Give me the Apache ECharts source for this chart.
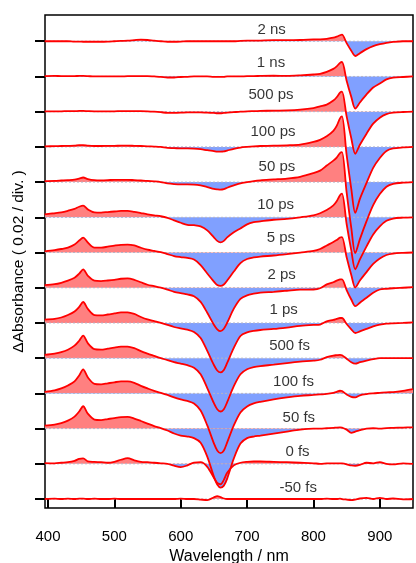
<!DOCTYPE html>
<html><head><meta charset="utf-8">
<script src="https://cdn.jsdelivr.net/npm/echarts@6/dist/echarts.min.js"></script>
<style>html,body{margin:0;padding:0;background:#fff}#c{width:416px;height:563px}</style>
</head><body><div id="c"></div>
<script>
// ---------- DATA (ΔA in mOD; 20 mOD = 0.02 = one division) ----------
const WAVELENGTH = [395,410,420,430,440,447,453,460,470,480,490,500,510,520,530,540,550,560,570,580,590,600,610,620,630,640,650,655,660,665,670,680,690,700,710,720,740,760,780,800,810,820,830,835,840,843,850,857,863,870,880,890,900,910,920,935,950];
const TRACE_NAMES = ['2 ns','1 ns','500 ps','100 ps','50 ps','10 ps','5 ps','2 ps','1 ps','500 fs','100 fs','50 fs','0 fs','-50 fs'];
const X_TICKS = [400,500,600,700,800,900];
const DIV_MOD = 20;

const T_2NS = [0,0,0,0,-0.2, -0.2,-0.3,-0.3,-0.3,-0.3, -0.2,0,0.2,0.3,0.6, 0.9,0.7,0.3,0,-0.3, -0.3,-0.2,0,0,0, 0,0,0,0,0, 0,0,0.2,0.3,0.3, 0.4,0.6,0.6,0.7,1.0, 1.1,1.4,2.0,2.6,3.4, 3.7,-1.1,-5.4,-8.4,-6.8, -4.5,-2.8,-1.7,-0.9,-0.4, 0,0];
const T_1NS = [0.2,0.3,0.2,0.2,0.2, 0.3,0.3,0.2,0,0, 0,0,0,0.2,0.2, 0.2,0.2,0,-0.2,-0.6, -0.6,-0.3,-0.2,0,0, 0,-0.2,-0.2,-0.2,-0.2, 0,0,0,0.2,0.2, 0.3,0.4,0.3,0.6,1.1, 1.5,2.6,4.3,5.7,7.7, 8.2,-2.4,-11.6,-18.2,-14.8, -10.2,-6.3,-4.0,-1.7,-0.7, -0.3,0];
const T_500PS = [0.2,0.2,0.2,0.3,0.3, 0.4,0.4,0.3,0.2,0.2, 0.2,0.2,0.3,0.3,0.3, 0.3,0.2,0,-0.3,-0.7, -0.7,-0.6,-0.4,-0.4,-0.4, -0.6,-0.7,-0.9,-0.9,-0.7, -0.6,-0.3,0,0.2,0.3, 0.4,0.6,0.7,1.1,2.0, 3.0,4.0,6.3,8.2,10.8, 11.4,-2.7,-15.1,-23.9,-18.8, -12.5,-6.8,-3.4,-1.4,-0.6, -0.2,0];
const T_100PS = [0.3,0.4,0.5,0.6,0.7, 1.0,1.0,0.7,0.5,0.5, 0.6,0.6,0.7,0.7,0.6, 0.5,0.3,0.2,0,-0.6, -0.7,-0.9,-0.9,-1.0,-1.3, -1.9,-2.4,-2.7,-2.7,-2.6, -2.1,-1.1,-0.4,0,0.3, 0.5,0.7,0.9,1.3,2.8, 4.0,6.0,9.1,11.9,16.2, 17.3,-4.6,-23.8,-37.5,-29.5, -20.5,-11.9,-6.3,-2.3,-0.9, -0.3,0];
const T_50PS = [0.6,0.7,0.9,1.1,1.4, 2.0,2.6,1.7,1.1,1.0, 1.1,1.3,1.3,1.3,1.1, 0.9,0.7,0.4,0,-0.7, -1.1,-1.3,-1.3,-1.4,-1.9, -2.8,-3.8,-4.1,-4.3,-4.0, -3.2,-1.9,-0.7,0,0.6, 1.0,1.5,2.0,3.0,5.1, 6.5,9.4,12.2,13.9,16.5, 17.0,-5.9,-26.0,-40.3,-32.4, -22.2,-13.1,-6.8,-2.6,-1.0, -0.3,0];
const T_10PS = [1.7,2.3,2.8,3.7,4.8, 6.0,6.6,4.5,2.8,2.7, 3.0,3.3,3.6,3.6,3.1, 2.4,1.7,1.1,0.6,-0.3, -1.7,-3.1,-4.3,-4.5,-5.1, -7.4,-11.4,-13.4,-14.2,-13.4, -11.4,-8.5,-6.3,-4.0,-2.8, -2.3,-1.4,-0.9,0,1.1, 2.3,4.1,6.8,9.1,12.5, 13.4,-3.8,-18.8,-29.5,-23.9, -16.5,-9.7,-5.1,-2.0,-0.7, -0.2,0];
const T_5PS = [0.7,1.4,2.0,2.8,4.5, 6.8,8.5,5.7,2.8,2.8, 3.3,3.9,4.4,4.5,4.0, 2.7,1.6,0.9,0.2,-0.9, -2.0,-2.6,-3.1,-4.0,-7.1, -11.9,-16.5,-18.5,-19.0,-18.2, -15.9,-10.8,-6.0,-3.7,-2.8, -2.3,-1.7,-0.9,0,0.9, 2.0,4.0,6.0,7.1,8.5, 8.8,-2.7,-12.7,-19.9,-15.9, -11.1,-6.5,-3.4,-1.4,-0.6, -0.2,0];
const T_2PS = [1.5,2.0,2.8,4.0,5.7, 8.0,10.4,6.8,4.0,3.8, 4.1,4.5,5.1,5.3,4.5, 3.1,1.7,0.9,0,-1.1, -2.3,-3.1,-3.8,-4.8,-8.0, -14.2,-21.0,-23.6,-24.7,-23.3, -19.9,-11.9,-6.3,-4.3,-3.4, -2.8,-2.3,-1.7,-1.1,-1.0, -0.3,1.9,3.1,4.0,4.7, 4.8,-1.3,-6.7,-10.5,-8.5, -5.7,-2.8,-1.0,-0.6,-0.3, 0,0.3];
const T_1PS = [1.9,2.3,3.1,4.5,6.5, 9.1,11.9,8.0,4.5,4.3, 4.8,5.4,6.0,6.0,5.1, 3.4,2.0,1.0,0,-1.1, -2.3,-3.1,-3.8,-5.1,-8.5, -15.9,-23.9,-27.0,-28.1,-26.7, -22.7,-14.2,-7.4,-5.4,-4.5, -4.0,-3.4,-2.6,-1.7,-1.1, -0.9,0.9,1.7,2.3,2.8, 2.8,-0.6,-3.6,-5.7,-4.8, -3.4,-2.0,-1.0,-0.4,-0.2, 0,0.3];
const T_500FS = [1.9,2.6,3.4,4.8,7.1, 9.9,12.8,8.5,5.1,4.8, 5.4,6.0,6.5,6.6,5.7, 4.0,2.6,1.3,0,-1.1, -2.3,-3.1,-4.0,-5.4,-9.1, -17.0,-25.6,-29.0,-30.3,-29.0, -25.0,-15.9,-9.1,-6.3,-5.1, -4.5,-3.7,-2.8,-2.0,-1.4, -0.9,0.6,1.5,1.7,1.9, 1.7,-0.3,-2.3,-3.1,-2.3, -1.4,-0.6,0,0,0, 0,0];
const T_100FS = [0.9,1.7,2.8,4.5,6.8, 10.2,13.6,9.1,5.4,5.1, 5.7,6.3,6.8,6.8,6.0, 4.3,2.8,1.4,0.3,-0.9, -2.3,-3.4,-4.3,-5.7,-9.7, -18.2,-28.4,-32.4,-33.9,-32.4, -27.8,-18.2,-10.8,-7.4,-5.7, -4.8,-3.4,-2.3,-1.4,-0.9, -0.6,-0.3,0.3,0.9,1.5, 1.3,-0.6,-2.0,-2.3,-1.1, -0.4,0,0.3,0.6,0.7, 1.4,2.4];
const T_50FS = [1.7,2.3,3.1,4.5,6.8, 9.7,12.7,8.5,5.1,4.8, 5.4,6.0,6.5,6.6,5.7, 4.3,2.8,1.4,0.3,-1.1, -2.8,-4.0,-4.5,-5.4,-8.0, -15.9,-27.3,-31.8,-33.5,-32.4, -28.4,-17.0,-8.5,-5.4,-4.5, -4.0,-2.8,-1.7,-0.6,0, 0,0.2,0.4,0.6,0.7, 0.6,-0.6,-2.4,-1.7,-0.9, 0,0.2,0,0.3,0.4, 0.6,0.7];
const T_0FS = [0.4,0.3,0.6,0.9,1.7, 2.8,3.1,1.4,1.1,0.9, 0.6,1.1,2.3,3.2,2.0, 1.1,0.9,0.6,0.3,0, -1.1,-1.9,-0.9,0.7,0.9, -1.7,-8.0,-10.8,-11.6,-9.1, -5.1,-0.9,0.6,1.1,1.3, 1.3,1.1,0.9,0.6,0.3, 0,0.2,0.3,0.3,0.3, 0.2,-0.3,-0.9,-1.1,-0.6, 0.6,0.3,0.9,0,-0.3, 0.3,0];
const T_M50FS = [0,0.2,0,0.2,0, 0.2,0.2,0,0.2,0, 0,0.2,0,0,0, 0,0,0,0,0, 0,0.2,0,0,-0.3, -0.6,0.9,1.7,1.1,0.3, 0,0,0,0,0, 0,0,0,0,0, 0,0.2,0,0,0.2, 0,-0.3,-0.6,-0.3,0.3, 0.6,0,0.6,0,0.3, -0.2,0];

const TRACES = [T_2NS,T_1NS,T_500PS,T_100PS,T_50PS,T_10PS,T_5PS,T_2PS,T_1PS,T_500FS,T_100FS,T_50FS,T_0FS,T_M50FS];

// ---------- LAYOUT / STYLE ----------
const LABEL_LAYOUT = [[737,6.3],[736,8.0],[736,9.3],[739,8.5],[745,8.5],[743,7.2],[751,8.1],[752,7.4],[755,7.3],[764,7.0],[770,6.3],[778,5.9],[776,6.8],[777,6.3]];
const X_MIN = 395.5, X_MAX = 950;
const Y_MIN = -5.1, Y_MAX = 274.9;
const FILL_POS = '#ff8080', FILL_NEG = '#80a0ff', LINE = '#ff0000';
const FONT = 'Liberation Sans, Arial, sans-serif';
const SMOOTH = 0.3;

const N = TRACES.length;
const offsets = TRACES.map((_, i) => (N - 1 - i) * DIV_MOD);
const series = [];
TRACES.forEach((tr, i) => {
  series.push({
    id: 'area' + i, type: 'line', z: 1, silent: true, symbol: 'none', smooth: SMOOTH,
    data: WAVELENGTH.map((w, j) => [w, tr[j] + offsets[i]]),
    lineStyle: { width: 0, opacity: 0 },
    areaStyle: { origin: offsets[i], color: FILL_POS, opacity: 1 }
  });
});
TRACES.forEach((tr, i) => {
  series.push({
    type: 'line', z: 2, silent: true, symbol: 'none',
    data: [[X_MIN, offsets[i]], [X_MAX, offsets[i]]],
    lineStyle: { color: '#b4b4c8', width: 1, type: [2, 2] }
  });
});
TRACES.forEach((tr, i) => {
  series.push({
    type: 'line', z: 3, silent: true, symbol: 'none', smooth: SMOOTH,
    data: WAVELENGTH.map((w, j) => [w, tr[j] + offsets[i]]),
    lineStyle: { color: LINE, width: 1.8 }
  });
});
series.push({
  type: 'scatter', z: 4, silent: true, symbol: 'circle', symbolSize: 1,
  itemStyle: { color: 'rgba(0,0,0,0)' },
  label: { show: true, position: 'inside', formatter: '{b}', color: '#000', fontSize: 15, fontFamily: FONT,
           textBorderWidth: 0, textBorderColor: 'transparent' },
  data: TRACE_NAMES.map((n, i) => ({ name: n, value: [LABEL_LAYOUT[i][0], offsets[i] + LABEL_LAYOUT[i][1]] }))
});

const option = {
  animation: false,
  textStyle: { fontFamily: FONT },
  grid: { left: 45, right: 3, top: 15, bottom: 55, show: true, borderColor: '#000', borderWidth: 1.5,
          backgroundColor: 'transparent', containLabel: false, outerBoundsMode: 'none' },
  xAxis: {
    type: 'value', min: X_MIN, max: X_MAX, offset: 2,
    axisLine: { show: false }, splitLine: { show: false },
    axisTick: { show: true, customValues: X_TICKS, length: 9, lineStyle: { color: '#000', width: 2 } },
    axisLabel: { customValues: X_TICKS, fontSize: 15, color: '#000', margin: 19, fontFamily: FONT },
    name: 'Wavelength / nm', nameLocation: 'middle', nameGap: 39,
    nameTextStyle: { fontSize: 16, color: '#000', fontFamily: FONT }
  },
  yAxis: {
    type: 'value', min: Y_MIN, max: Y_MAX,
    axisLine: { show: false }, splitLine: { show: false },
    axisLabel: { show: false },
    axisTick: { show: true, customValues: offsets.slice(), length: 10, lineStyle: { color: '#000', width: 2 } },
    name: 'ΔAbsorbance ( 0.02 / div. )', nameLocation: 'middle', nameGap: 18, nameRotate: 90,
    nameTextStyle: { fontSize: 15.5, color: '#000', fontFamily: FONT }
  },
  series: series
};

const chart = echarts.init(document.getElementById('c'), null, { renderer: 'canvas' });
chart.setOption(option);
const upd = TRACES.map((_, i) => {
  const py = chart.convertToPixel({ gridIndex: 0 }, [700, offsets[i]])[1];
  return {
    id: 'area' + i,
    areaStyle: {
      origin: offsets[i], opacity: 1,
      color: new echarts.graphic.LinearGradient(0, py - 0.3, 0, py + 0.3, [
        { offset: 0, color: FILL_POS }, { offset: 0.5, color: FILL_POS },
        { offset: 0.5, color: FILL_NEG }, { offset: 1, color: FILL_NEG }], true)
    }
  };
});
chart.setOption({ series: upd });
</script>
</body></html>
